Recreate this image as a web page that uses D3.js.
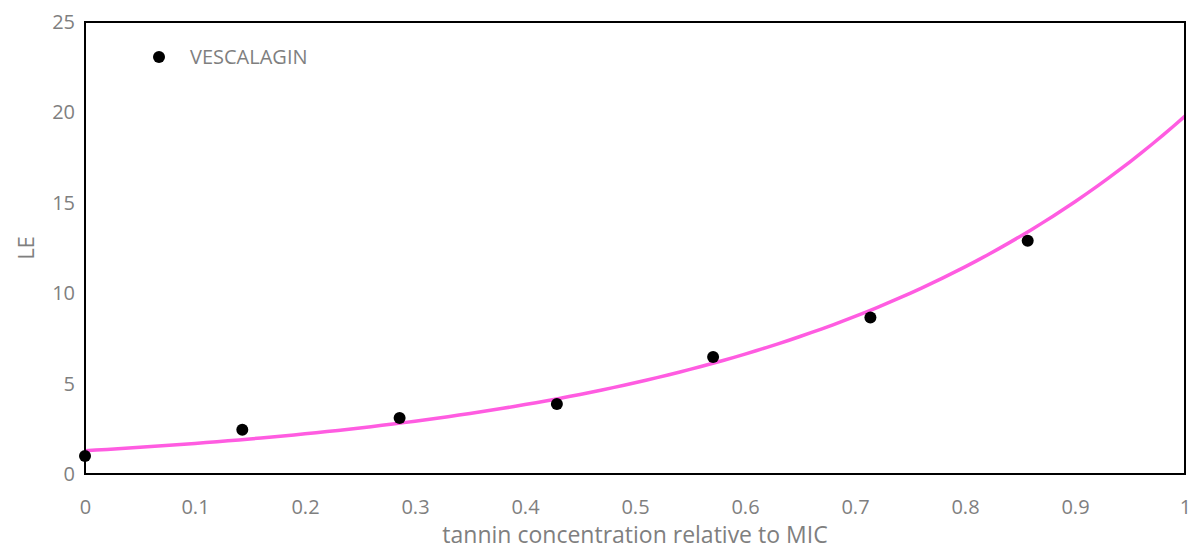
<!DOCTYPE html>
<html>
<head>
<meta charset="utf-8">
<script src="https://cdn.jsdelivr.net/npm/d3@7"></script>
<style>
	body { margin: 0; background: #fff; }
	text { font-family: "Open Sans", "Noto Sans", sans-serif; fill: #7f7f7f; }
</style>
</head>
<body>
<main></main>
<script>
// Data
const concentration = [0, 0.143, 0.286, 0.429, 0.571, 0.714, 0.857];
const leValues = [1.0, 2.45, 3.1, 3.87, 6.47, 8.65, 12.9];
const xTicks = [0, 0.1, 0.2, 0.3, 0.4, 0.5, 0.6, 0.7, 0.8, 0.9, 1];
const yTicks = [0, 5, 10, 15, 20, 25];
const seriesName = "VESCALAGIN";

function drawChart() {
	const dimensions = {
		width: 1200,
		height: 550,
		margin: { top: 22, right: 15, bottom: 76, left: 85 },
	};
	dimensions.boundedWidth = dimensions.width - dimensions.margin.left - dimensions.margin.right;
	dimensions.boundedHeight = dimensions.height - dimensions.margin.top - dimensions.margin.bottom;

	const svg = d3.select("main")
		.append("svg")
			.attr("width", dimensions.width)
			.attr("height", dimensions.height);

	const graph = svg.append("g")
		.attr("transform", `translate(${dimensions.margin.left},${dimensions.margin.top})`);

	const xScale = d3.scaleLinear()
		.domain([0, 1])
		.range([0, dimensions.boundedWidth]);

	const yScale = d3.scaleLinear()
		.domain([0, 25])
		.range([dimensions.boundedHeight, 0]);

	// Exponential trendline (least squares on ln y), like the spreadsheet one
	const lnY = leValues.map(Math.log);
	const mx = d3.mean(concentration);
	const ml = d3.mean(lnY);
	const b = d3.sum(concentration, (x, i) => (x - mx) * (lnY[i] - ml)) /
		d3.sum(concentration, x => (x - mx) ** 2);
	const a = Math.exp(ml - b * mx);
	const trend = d3.range(0, 1.0001, 0.01).map(x => [x, a * Math.exp(b * x)]);

	graph.append("path")
		.datum(trend)
		.attr("fill", "none")
		.attr("stroke", "#ff5ce1")
		.attr("stroke-width", 3.5)
		.attr("d", d3.line()
			.x(d => xScale(d[0]))
			.y(d => yScale(d[1])));

	// Frame
	graph.append("rect")
		.attr("width", dimensions.boundedWidth)
		.attr("height", dimensions.boundedHeight)
		.attr("fill", "none")
		.attr("stroke", "#000")
		.attr("stroke-width", 2);

	graph.selectAll("circle.dot")
		.data(concentration)
		.enter()
		.append("circle")
		.attr("class", "dot")
		.attr("cx", d => xScale(d))
		.attr("cy", (d, i) => yScale(leValues[i]))
		.attr("r", 6)
		.attr("fill", "#000");

	// Axes
	const xAxis = graph.append("g")
		.attr("transform", `translate(0,${dimensions.boundedHeight})`)
		.call(d3.axisBottom(xScale).tickValues(xTicks).tickSize(0).tickPadding(26).tickFormat(d3.format("")));

	const yAxis = graph.append("g")
		.call(d3.axisLeft(yScale).tickValues(yTicks).tickSize(0).tickPadding(10));

	[xAxis, yAxis].forEach(ax => {
		ax.select(".domain").remove();
		ax.selectAll("text")
			.style("font-size", "20px")
			.style("font-family", "'Open Sans', 'Noto Sans', sans-serif")
			.attr("fill", "#7f7f7f");
	});

	svg.append("text")
		.attr("x", 635)
		.attr("y", 543)
		.attr("text-anchor", "middle")
		.style("font-size", "23px")
		.text("tannin concentration relative to MIC");

	svg.append("text")
		.attr("transform", `translate(34,${dimensions.margin.top + dimensions.boundedHeight / 2}) rotate(-90)`)
		.attr("text-anchor", "middle")
		.style("font-size", "22px")
		.text("LE");

	// Legend
	const legend = svg.append("g")
		.attr("transform", "translate(159,57)");
	legend.append("circle")
		.attr("r", 6)
		.attr("fill", "#000");
	legend.append("text")
		.attr("x", 31)
		.attr("dy", "0.35em")
		.style("font-size", "20px")
		.text(seriesName);
}

drawChart();
</script>
</body>
</html>
